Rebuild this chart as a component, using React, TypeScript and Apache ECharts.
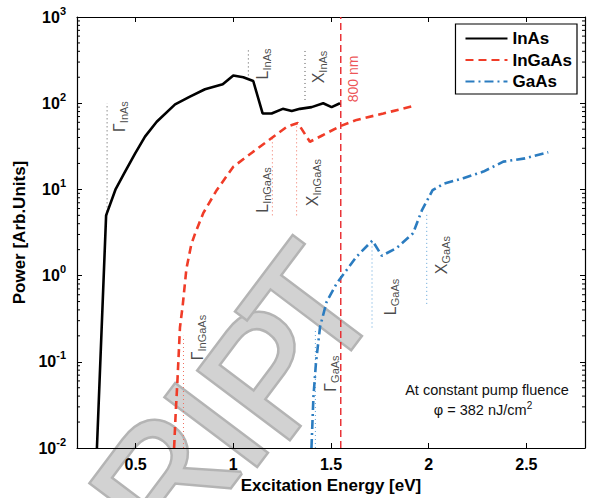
import React, { useEffect, useRef } from 'react';
import * as echarts from 'echarts';

const FONT = '"Liberation Sans", Arial, Helvetica, sans-serif';

// axis ticks
const xTicks = [0.5, 1, 1.5, 2, 2.5];
const yMin = 0.01;
const yMax = 1000;

// series data (excitation energy [eV], power [arb. units])
const inasE = [0.302, 0.349, 0.398, 0.442, 0.497, 0.548, 0.608, 0.702, 0.778, 0.855, 0.946, 1.0, 1.051, 1.102, 1.15, 1.196, 1.253, 1.299, 1.341, 1.401, 1.46, 1.503, 1.546];
const inasP = [0.01, 5, 10.1, 15.4, 26, 41, 61, 97, 119, 145, 166, 210, 200, 181, 76, 76, 86, 81, 86, 90, 100, 90, 100];

const ingaasE = [0.697, 0.705, 0.714, 0.727, 0.741, 0.76, 0.785, 0.805, 0.846, 0.915, 1.0, 1.102, 1.205, 1.273, 1.33, 1.392, 1.46, 1.546, 1.631, 1.768, 1.921];
const ingaasP = [0.01, 0.025, 0.06, 0.25, 0.45, 1.2, 2.3, 3.1, 5.3, 9.8, 18.3, 27.4, 40.8, 53, 59, 35.7, 42.8, 54, 64, 76, 92.7];

const gaasE = [1.40, 1.41, 1.423, 1.444, 1.478, 1.529, 1.58, 1.631, 1.70, 1.712, 1.76, 1.837, 1.92, 1.965, 2.02, 2.075, 2.177, 2.28, 2.382, 2.493, 2.612];
const gaasP = [0.01, 0.039, 0.097, 0.255, 0.5, 0.81, 1.16, 1.66, 2.4, 2.55, 1.7, 2.1, 3.1, 5.7, 9.8, 11.6, 13.5, 16.1, 21, 22.9, 26.9];

// 800 nm pump line
const laserE = 1.55;
const laserLabel = '800 nm';
const laserLabelE = 1.615;
const laserLabelP = 191;

// band-edge markers (dotted verticals)
const markerMat = ['InAs', 'InAs', 'InAs', 'InGaAs', 'InGaAs', 'InGaAs', 'GaAs', 'GaAs', 'GaAs'];
const markerE = [0.354, 1.077, 1.367, 0.745, 1.2, 1.324, 1.42, 1.71, 1.99];
const markerLow = [5, 210, 109, 0.01, 5, 5, 0.01, 0.25, 0.47];
const markerHigh = [100, 434, 434, 0.2, 40, 59, 0.23, 2.5, 5.3];

// band-edge labels
const labelMain = ['Γ', 'L', 'X', 'Γ', 'L', 'X', 'Γ', 'L', 'X'];
const labelSub = ['InAs', 'InAs', 'InAs', 'InGaAs', 'InGaAs', 'InGaAs', 'GaAs', 'GaAs', 'GaAs'];
const labelE = [0.4175, 1.149, 1.438, 0.817, 1.149, 1.403, 1.497, 1.807, 2.063];
const labelP = [70, 285, 263, 0.191, 9.85, 12.0, 0.073, 0.565, 1.73];

const noteLine1 = 'At constant pump fluence';
const noteLine2 = 'φ = 382 nJ/cm';
const noteSup = '2';

const watermark = ['R', 'I', 'P', 'T'];

const seriesColor: Record<string, string> = { InAs: '#000000', InGaAs: '#f03c28', GaAs: '#2b7cc0' };
const markerColor: Record<string, string> = { InAs: '#555555', InGaAs: '#f07060', GaAs: '#5aa0d8' };

const zip = (xs: number[], ys: number[]) => xs.map((x, i) => [x, ys[i]]);

export default function App() {
  const ref = useRef<HTMLDivElement>(null);
  useEffect(() => {
    const chart = echarts.init(ref.current!, null, { renderer: 'svg' });

    const minorVals: number[] = [];
    for (let k = -2; k < 3; k++) {
      for (let m = 2; m <= 9; m++) minorVals.push(m * Math.pow(10, k));
    }

    const markerSeries = markerE.map((e, i) => ({
      type: 'line',
      name: 'marker' + i,
      data: [[e, markerLow[i]], [e, markerHigh[i]]],
      symbol: 'none',
      silent: true,
      lineStyle: { color: markerColor[markerMat[i]], width: 1, type: [1, 3] },
      z: 3,
    }));

    const labelData: any[] = labelE.map((e, i) => ({
      value: [e, labelP[i]],
      label: { formatter: `{m|${labelMain[i]}}{s|${labelSub[i]}}` },
    }));
    labelData.push({ value: [laserLabelE, laserLabelP], label: { formatter: `{r|${laserLabel}}` } });

    // watermark letter centres in pixels (decorative)
    const wmPos = [[164, 480], [216, 425], [269, 371], [310, 308]];
    const wmRot = (53 * Math.PI) / 180;

    const option: any = {
      animation: false,
      backgroundColor: '#ffffff',
      grid: { left: 77, top: 17, right: 5, bottom: 50, containLabel: false, outerBoundsMode: 'none' },
      legend: {
        data: ['InAs', 'InGaAs', 'GaAs'],
        orient: 'vertical',
        right: 13,
        top: 24,
        padding: [6, 5, 4, 9],
        itemGap: 4.5,
        itemWidth: 42,
        itemHeight: 14,
        borderColor: '#000',
        borderWidth: 1.2,
        backgroundColor: '#fff',
        itemStyle: { color: 'rgba(0,0,0,0)', borderWidth: 0, opacity: 0 },
        textStyle: { fontFamily: FONT, fontSize: 17, fontWeight: 'bold', color: '#000' },
      },
      graphic: {
        elements: [
          ...watermark.map((ch, i) => ({
            type: 'text',
            x: wmPos[i][0],
            y: wmPos[i][1],
            rotation: wmRot,
            z: -10,
            silent: true,
            style: {
              text: ch,
              fontFamily: FONT,
              fontSize: 165,
              fill: '#d2d2d2',
              stroke: '#b4b4b4',
              lineWidth: 5,
              align: 'center',
              verticalAlign: 'middle',
              textAlign: 'center',
              textVerticalAlign: 'middle',
            },
          })),
          {
            type: 'text',
            x: 487,
            y: 390,
            z: 10,
            style: {
              text: noteLine1,
              fontFamily: FONT,
              fontSize: 14.5,
              fill: '#111',
              align: 'center',
              verticalAlign: 'middle',
              textAlign: 'center',
              textVerticalAlign: 'middle',
            },
          },
          {
            type: 'text',
            x: 483,
            y: 410,
            z: 10,
            style: {
              text: `{a|${noteLine2}}{s|${noteSup}}`,
              rich: {
                a: { fontFamily: FONT, fontSize: 14.5, fill: '#111', color: '#111' },
                s: { fontFamily: FONT, fontSize: 10, fill: '#111', color: '#111', padding: [0, 0, 10, 0] },
              },
              align: 'center',
              verticalAlign: 'middle',
              textAlign: 'center',
              textVerticalAlign: 'middle',
            },
          },
        ],
      },
      xAxis: [
        {
          type: 'value',
          min: 0.2,
          max: 2.8,
          position: 'bottom',
          name: 'Excitation Energy [eV]',
          nameLocation: 'middle',
          nameGap: 26,
          nameTextStyle: { fontFamily: FONT, fontSize: 17, fontWeight: 'bold', color: '#000' },
          axisLine: { show: true, lineStyle: { color: '#000', width: 1.2 } },
          axisTick: { show: true, inside: true, length: 5, customValues: xTicks, lineStyle: { color: '#000' } },
          axisLabel: {
            show: true,
            customValues: xTicks,
            margin: 8,
            fontFamily: FONT,
            fontSize: 16,
            fontWeight: 'bold',
            color: '#000',
            formatter: (v: number) => String(v),
          },
          splitLine: { show: false },
        },
        {
          type: 'value',
          min: 0.2,
          max: 2.8,
          position: 'top',
          axisLine: { show: true, lineStyle: { color: '#000', width: 1.2 } },
          axisTick: { show: true, inside: true, length: 5, customValues: xTicks, lineStyle: { color: '#000' } },
          axisLabel: { show: false },
          splitLine: { show: false },
        },
      ],
      yAxis: [
        {
          type: 'log',
          logBase: 10,
          min: yMin,
          max: yMax,
          position: 'left',
          name: 'Power [Arb.Units]',
          nameLocation: 'middle',
          nameGap: 44,
          nameTextStyle: { fontFamily: FONT, fontSize: 17, fontWeight: 'bold', color: '#000' },
          axisLine: { show: true, lineStyle: { color: '#000', width: 1.2 } },
          axisTick: { show: true, inside: true, length: 5, lineStyle: { color: '#000' } },
          axisLabel: {
            show: true,
            margin: 11,
            color: '#000',
            formatter: (v: number) => `{b|10}{p|${Math.round(Math.log10(v))}}`,
            rich: {
              b: { fontFamily: FONT, fontSize: 16, fontWeight: 'bold', color: '#000' },
              p: { fontFamily: FONT, fontSize: 11, fontWeight: 'bold', color: '#000', padding: [0, 0, 13, 0] },
            },
          },
          splitLine: { show: false },
        },
        {
          type: 'log',
          logBase: 10,
          min: yMin,
          max: yMax,
          position: 'right',
          axisLine: { show: true, lineStyle: { color: '#000', width: 1.2 } },
          axisTick: { show: true, inside: true, length: 5, lineStyle: { color: '#000' } },
          axisLabel: { show: false },
          splitLine: { show: false },
        },
      ],
      series: [
        {
          type: 'line',
          name: 'InAs',
          data: zip(inasE, inasP),
          symbol: 'none',
          color: seriesColor.InAs,
          lineStyle: { color: seriesColor.InAs, width: 2.6, type: 'solid' },
          z: 6,
        },
        {
          type: 'line',
          name: 'InGaAs',
          data: zip(ingaasE, ingaasP),
          symbol: 'none',
          color: seriesColor.InGaAs,
          lineStyle: { color: seriesColor.InGaAs, width: 2.6, type: [8, 5] },
          z: 6,
        },
        {
          type: 'line',
          name: 'GaAs',
          data: zip(gaasE, gaasP),
          symbol: 'none',
          color: seriesColor.GaAs,
          lineStyle: { color: seriesColor.GaAs, width: 2.6, type: [9, 4, 2, 4] },
          z: 6,
        },
        {
          type: 'line',
          name: laserLabel,
          data: [[laserE, yMin], [laserE, yMax]],
          symbol: 'none',
          silent: true,
          lineStyle: { color: '#e8262a', width: 1.4, type: [7, 4] },
          z: 4,
        },
        ...markerSeries,
        {
          type: 'scatter',
          name: 'labels',
          data: labelData,
          symbolSize: 1,
          silent: true,
          itemStyle: { color: 'rgba(0,0,0,0)' },
          z: 8,
          label: {
            show: true,
            position: 'inside',
            rotate: 90,
            color: '#1a1a1a',
            rich: {
              m: { fontFamily: FONT, fontSize: 16, color: '#1a1a1a' },
              s: { fontFamily: FONT, fontSize: 11, color: '#1a1a1a', padding: [9, 0, 0, 0] },
              r: { fontFamily: FONT, fontSize: 14, color: '#e8262a' },
            },
          },
        },
        {
          type: 'custom',
          name: 'minorTicks',
          data: minorVals.map((v) => [0.2, v]),
          silent: true,
          clip: false,
          z: 10,
          renderItem: (params: any, api: any) => {
            const cs = params.coordSys;
            const y = api.coord([0.2, api.value(1)])[1];
            return {
              type: 'group',
              children: [
                { type: 'line', shape: { x1: cs.x, y1: y, x2: cs.x + 3, y2: y }, style: { stroke: '#000', lineWidth: 1 } },
                { type: 'line', shape: { x1: cs.x + cs.width - 3, y1: y, x2: cs.x + cs.width, y2: y }, style: { stroke: '#000', lineWidth: 1 } },
              ],
            };
          },
        },
      ],
    };

    chart.setOption(option);
    return () => chart.dispose();
  }, []);

  return <div ref={ref} style={{ width: 590, height: 498, position: 'absolute', left: 0, top: 0 }} />;
}
